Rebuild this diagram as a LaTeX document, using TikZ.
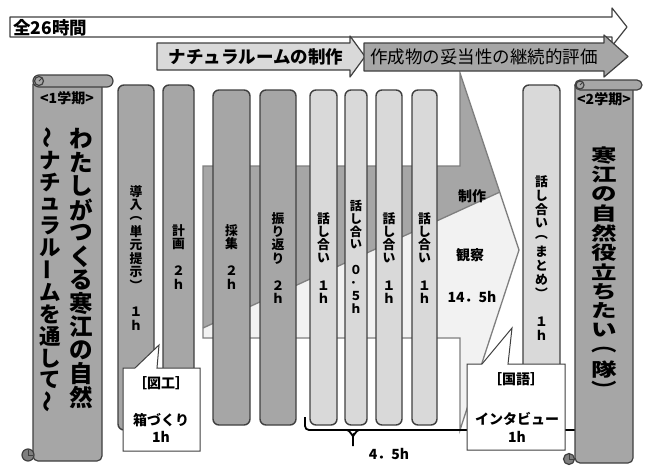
\documentclass[tikz,border=0pt]{standalone}
\usepackage{fontspec}
\setmainfont{Noto Sans CJK JP}
\newcommand\fsz[1]{\fontsize{#1}{#1}\selectfont}
\newlength\vpitch
\def\vstkend{\vstkend}
\newcommand\vstk[2]{\vbox{\offinterlineskip\setlength\vpitch{#1}\vstkloop#2\vstkend}}
\def\vstkloop#1{\ifx\vstkend#1\else\vbox to\vpitch{\vss\hbox to\vpitch{\hss#1\hss}\vss}\expandafter\vstkloop\fi}
\newcommand\vchoon{\rotatebox[origin=c]{90}{ー}}
\newcommand\vwave{\rotatebox[origin=c]{90}{～}}
\definecolor{edgec}{HTML}{404040}
\definecolor{midg}{HTML}{A6A6A6}
\definecolor{lightg}{HTML}{D9D9D9}
\definecolor{paleg}{HTML}{F2F2F2}
\definecolor{curlc}{HTML}{7F7F7F}
\tikzset{
  barbox/.style={draw=edgec, line width=1.4pt, rounded corners=6pt, inner sep=0pt, minimum height=335pt},
  tallbar/.style={barbox, minimum height=345pt},
  vlabel/.style={inner sep=0pt, font=\bfseries\fsz{12.8}},
  hlabel/.style={inner sep=0pt, font=\bfseries\fsz{14}},
  shapeline/.style={draw=edgec, line width=1.2pt, line join=round},
  callout/.style={draw=edgec, line width=1pt, fill=white, line join=miter},
}
\begin{document}
\begin{tikzpicture}[x=1pt,y=-1pt]
\useasboundingbox[fill=white] (0,0) rectangle (646,466);

% top arrow
\path[shapeline, fill=white] (10,17) -- (612,17) -- (612,8) -- (627,27) -- (612,46) -- (612,37) -- (10,37) -- cycle;
\node[hlabel, anchor=west, font=\bfseries\fsz{17.5}] (total) at (13,27.5) {全26時間};

% big arrow
\fill[midg] (203,166) -- (460,166) -- (460,73) -- (500,192) -- (203,328) -- cycle;
\fill[paleg] (203,328) -- (500,192) -- (519,250) -- (460,430) -- (460,338) -- (203,338) -- cycle;
\draw[draw=curlc, line width=1.3pt] (203,328) -- (500,192);
\draw[draw=curlc, line width=1.3pt, line join=miter] (203,166) -- (460,166) -- (460,73) -- (519,250) -- (460,430) -- (460,338) -- (203,338) -- cycle;
\node[hlabel] (seisaku) at (472,196) {制作};
\node[hlabel] (kansatsu) at (470,255) {観察};
\node[hlabel] (hours145) at (472,297) {14．5h};

% second row arrows
\path[shapeline, fill=lightg] (157,43) -- (350,43) -- (350,36) -- (365,56.5) -- (350,77) -- (350,70) -- (157,70) -- cycle;
\node[hlabel, font=\bfseries\fsz{17.5}] (natural) at (256,56.5) {ナチュラルームの制作};
\path[shapeline, fill=midg] (364,43) -- (604,43) -- (604,35) -- (628,56.5) -- (604,77) -- (604,71) -- (364,71) -- cycle;
\node[hlabel, font=\fsz{17.5}] (hyouka) at (484,57) {作成物の妥当性の継続的評価};

% bars
\node[tallbar, fill=midg, minimum width=36pt] (b1) at (136,257.5) {};
\node[tallbar, fill=midg, minimum width=31pt] (b2) at (178.5,257.5) {};
\node[barbox, fill=midg, minimum width=37pt] (b3) at (231.5,257.5) {};
\node[barbox, fill=midg, minimum width=36pt] (b4) at (278,257.5) {};
\node[barbox, fill=lightg, minimum width=27pt] (b5) at (323.5,257.5) {};
\node[barbox, fill=lightg, minimum width=22pt] (b6) at (356,257.5) {};
\node[barbox, fill=lightg, minimum width=26pt] (b7) at (389,257.5) {};
\node[barbox, fill=lightg, minimum width=25pt] (b8) at (424.5,257.5) {};
\node[tallbar, fill=lightg, minimum width=37pt] (b9) at (541.5,257.5) {};

\node[vlabel] (t1) at (136,258.5) {\vstk{13.4pt}{導入︵単元提示︶　１ｈ}};
\node[vlabel] (t2) at (178.5,257.5) {\vstk{13.4pt}{計画　２ｈ}};
\node[vlabel] (t3) at (231.5,257.5) {\vstk{13.4pt}{採集　２ｈ}};
\node[vlabel] (t4) at (278,258.5) {\vstk{13.4pt}{振り返り　２ｈ}};
\node[vlabel] (t5) at (323.5,258.5) {\vstk{13.4pt}{話し合い　１ｈ}};
\node[vlabel, font=\bfseries\fsz{12.2}] (t6) at (356,257.5) {\vstk{12.9pt}{話し合い　０．５ｈ}};
\node[vlabel] (t7) at (389,258.5) {\vstk{13.4pt}{話し合い　１ｈ}};
\node[vlabel] (t8) at (424.5,258.5) {\vstk{13.4pt}{話し合い　１ｈ}};
\node[vlabel] (t9) at (541.5,258.5) {\vstk{14pt}{話し合い︵まとめ︶　１ｈ}};

% brace
\draw[line width=1.8pt, rounded corners=4pt] (305,417) -- (305,430) -- (575,430);
\draw[line width=1.8pt] (347,430) to[out=0,in=-90] (353,435) -- (353,446);
\draw[line width=1.8pt] (359,430) to[out=180,in=-90] (353,435);
\node[hlabel] (sum) at (389,454) {4．5h};

% callouts
\path[callout] (123,368) -- (135,368) -- (159,345) -- (157,368) -- (200,368) -- (200,451) -- (123,451) -- cycle;
\node[hlabel] (zuko) at (161,383) {［図工］};
\node[hlabel] (hako) at (161,420) {箱づくり};
\node[hlabel] (hako1) at (161,437) {1h};
\path[callout] (467,364) -- (482,364) -- (512,328) -- (508,364) -- (565,364) -- (565,450) -- (467,450) -- cycle;
\node[hlabel] (kokugo) at (516,379) {［国語］};
\node[hlabel] (inter) at (517,419) {インタビュー};
\node[hlabel] (inter1) at (517,437) {1h};

% scroll 1
\path[shapeline, fill=midg] (33,84) -- (102,84) {[rounded corners=5pt] -- (102,461) -- (33,461)} -- cycle;
\path[shapeline, fill=midg, rounded corners=6pt] (33,75) rectangle (113,87);
\draw[shapeline, fill=curlc!70] (39,81) circle (4.5pt);
\draw[draw=edgec, line width=0.8pt] (39,81) -- (42,78);
\draw[shapeline, fill=curlc] (28,455) circle (6pt);
\draw[draw=edgec, line width=0.8pt] (28,455) -- (33,455) (28,455) -- (28,450);
\node[hlabel, font=\bfseries\fsz{14}] (term1) at (67,98) {<1学期>};
\node[inner sep=0pt, anchor=north, font=\bfseries\fsz{23.5}] (title1a) at (81.5,127) {\vstk{23.5pt}{わたしがつくる寒江の自然}};
\node[inner sep=0pt, anchor=north, font=\bfseries\fsz{21.5}] (title1b) at (50,127) {\vstk{22pt}{\vwave ナチュラル\vchoon ムを通して\vwave}};

% scroll 2
\path[shapeline, fill=midg] (575,85) -- (633,85) {[rounded corners=5pt] -- (633,463) -- (575,463)} -- cycle;
\path[shapeline, fill=midg, rounded corners=5pt] (575,80) rectangle (642,90);
\draw[shapeline, fill=curlc!70] (580,85) circle (4pt);
\draw[draw=edgec, line width=0.8pt] (580,85) -- (583,82);
\draw[shapeline, fill=curlc] (569,459) circle (5.5pt);
\draw[draw=edgec, line width=0.8pt] (569,459) -- (574,459) (569,459) -- (569,454);
\node[hlabel, font=\bfseries\fsz{14}] (term2) at (604,99) {<2学期>};
\node[inner sep=0pt, font=\bfseries\fsz{25.5}] (title2) at (604,272) {\scalebox{1}[0.72]{\vstk{27pt}{寒江の自然役立ちたい︵隊︶}}};
\end{tikzpicture}
\end{document}
